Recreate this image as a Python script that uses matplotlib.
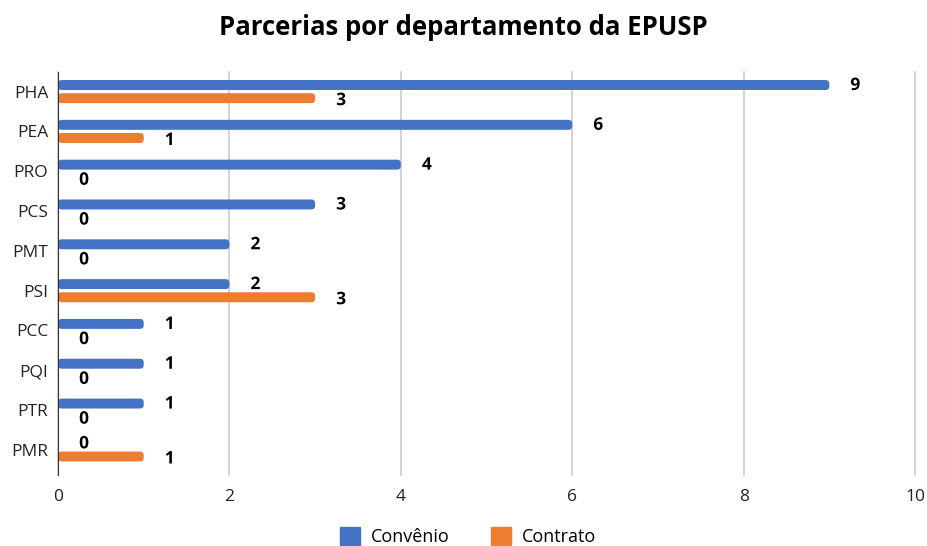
import numpy as np
import matplotlib.pyplot as plt
import matplotlib.patheffects as pe
from matplotlib.patches import FancyBboxPatch, Patch

plt.rcParams['font.family'] = ['Open Sans', 'DejaVu Sans']

departamentos = ["PHA", "PEA", "PRO", "PCS", "PMT", "PSI", "PCC", "PQI", "PTR", "PMR"]
convenio = [9, 6, 4, 3, 2, 2, 1, 1, 1, 0]
contrato = [3, 1, 0, 0, 0, 3, 0, 0, 0, 1]

azul = "#4472C4"
laranja = "#ED7D31"

fig = plt.figure(figsize=(9.27, 5.46), dpi=100)
ax = fig.add_axes([0.0626, 0.130, 0.9245, 0.738])

y = np.arange(len(departamentos))
h = 0.25
off = 0.165

b1 = ax.barh(y - off, convenio, height=h, color=azul, zorder=3)
b2 = ax.barh(y + off, contrato, height=h, color=laranja, zorder=3)

ax.set_xlim(0, 10)
ax.set_ylim(9.63, -0.49)

# bar ends rounded like the spreadsheet chart
for bars, cor in [(b1, azul), (b2, laranja)]:
    for r in bars:
        x0, y0, w, hh = r.get_x(), r.get_y(), r.get_width(), r.get_height()
        r.set_visible(False)
        if w <= 0:
            continue
        ax.add_patch(FancyBboxPatch((x0, y0), w, hh,
                                    boxstyle="round,pad=0,rounding_size=0.045",
                                    mutation_aspect=2.15, color=cor, lw=0, zorder=3))

stroke = [pe.withStroke(linewidth=3, foreground="white")]
for yi, v in zip(y - off, convenio):
    ax.annotate(str(v), (v, yi), xytext=(26, 0), textcoords="offset pixels",
                ha="center", va="center", fontsize=12.5, fontweight="bold",
                path_effects=stroke, zorder=4)
for yi, v in zip(y + off, contrato):
    ax.annotate(str(v), (v, yi), xytext=(26, -2), textcoords="offset pixels",
                ha="center", va="center", fontsize=12.5, fontweight="bold",
                path_effects=stroke, zorder=4)

ax.set_xticks([0, 2, 4, 6, 8, 10])
ax.set_yticks(y)
ax.set_yticklabels(departamentos)
ax.grid(axis="x", color="#cccccc", linewidth=1.2, zorder=0)
for gl in ax.get_xgridlines():
    gl.set_clip_on(False)
for s in ["top", "right", "bottom"]:
    ax.spines[s].set_visible(False)
ax.spines["left"].set_color("#333333")
ax.spines["left"].set_zorder(5)
ax.tick_params(axis="both", length=0, labelsize=12.5, colors="#222222")
ax.tick_params(axis="x", pad=10)
ax.tick_params(axis="y", pad=7)

fig.suptitle("Parcerias por departamento da EPUSP", y=0.975, fontsize=18.5, fontweight="bold")

handles = [Patch(color=azul, label="Convênio"), Patch(color=laranja, label="Contrato")]
fig.legend(handles=handles, loc="lower center", bbox_to_anchor=(0.505, -0.03), ncol=2,
           frameon=False, fontsize=13, handlelength=1.1, handleheight=1.1,
           columnspacing=2.3, handletextpad=0.6)

fig.savefig("out.png", dpi=100)
